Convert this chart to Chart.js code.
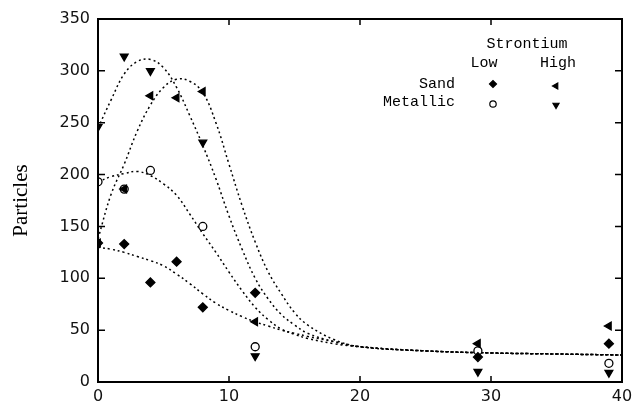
<!DOCTYPE html>
<html lang="en">
<head>
<meta charset="UTF-8">
<title>Particles</title>
<script src="https://cdn.jsdelivr.net/npm/chart.js"></script>
<style>
  html, body { margin: 0; padding: 0; background: #fff; }
</style>
</head>
<body>
<canvas id="chart" width="642" height="417"></canvas>
<script>
// measured points (time on x, particles on y)
const sandX = [0, 2, 4, 6, 8, 12, 29, 39];
const sandLow = [134, 133, 96, 116, 72, 86, 24, 37];
const sandHigh = [134, 186, 276, 274, 280, 58, 37, 54];
const metalX = [0, 2, 4, 8, 12, 29, 39];
const metalLow = [193, 186, 204, 150, 34, 30, 18];
const metalHigh = [246, 314, 300, 231, 25, 10, 9];

// fitted curves
const fitX = [0, 1, 2, 3, 4, 5, 6, 7, 8, 9, 10, 11, 12, 13, 14, 15, 16, 18, 20, 25, 30, 35, 40];
const fitSandLow = [130, 128, 125, 121, 117, 112, 104, 95, 85, 76, 69, 63, 58, 54, 50, 47, 44, 39, 34, 30, 28, 27, 26];
const fitSandHigh = [138, 181, 210, 242, 267, 284, 292, 290, 279, 250, 210, 170, 135, 106, 85, 67, 55, 41, 34, 30, 28, 27, 26];
const fitMetalLow = [193, 198, 201, 203, 199, 191, 180, 162, 143, 125, 106, 88, 72, 60, 51, 46, 42, 37, 34, 30, 28, 27, 26];
const fitMetalHigh = [245, 272, 297, 309, 311, 303, 284, 257, 228, 196, 160, 128, 100, 80, 65, 55, 47, 39, 34, 30, 28, 27, 26];

const xTicks = [0, 10, 20, 30, 40];
const yTicks = [0, 50, 100, 150, 200, 250, 300, 350];

const pts = (xs, ys) => xs.map((x, i) => ({ x: x, y: ys[i] }));

function fitLine(ys) {
    return {
        data: pts(fitX, ys),
        showLine: true,
        borderColor: '#000',
        borderWidth: 1.5,
        borderDash: [2, 3],
        pointRadius: 0,
        tension: 0.4,
        order: 2
    };
}

function marks(xs, ys, style, rot, fill, r) {
    return {
        data: pts(xs, ys),
        showLine: false,
        pointStyle: style,
        rotation: rot,
        pointRadius: r,
        backgroundColor: fill,
        borderColor: '#000',
        borderWidth: 1.3,
        order: 1
    };
}

// the key in the upper right and the inward ticks of the frame
const framePlugin = {
    id: 'frame',
    afterDraw(chart) {
        const ctx = chart.ctx;
        const a = chart.chartArea;
        const xs = chart.scales.x, ys = chart.scales.y;
        ctx.save();
        ctx.strokeStyle = '#000';
        ctx.lineWidth = 2;
        ctx.strokeRect(a.left, a.top, a.right - a.left, a.bottom - a.top);
        ctx.lineWidth = 1.5;
        ctx.beginPath();
        xTicks.slice(1, -1).forEach(v => {
            const px = xs.getPixelForValue(v);
            ctx.moveTo(px, a.bottom); ctx.lineTo(px, a.bottom - 6);
            ctx.moveTo(px, a.top); ctx.lineTo(px, a.top + 6);
        });
        yTicks.slice(1, -1).forEach(v => {
            const py = ys.getPixelForValue(v);
            ctx.moveTo(a.left, py); ctx.lineTo(a.left + 7, py);
            ctx.moveTo(a.right, py); ctx.lineTo(a.right - 7, py);
        });
        ctx.stroke();

        ctx.fillStyle = '#000';
        ctx.font = '15px "Liberation Mono"';
        ctx.textBaseline = 'middle';
        ctx.textAlign = 'center';
        ctx.fillText('Strontium', 527, 44);
        ctx.fillText('Low', 484, 63);
        ctx.fillText('High', 558, 63);
        ctx.textAlign = 'right';
        ctx.fillText('Sand', 455, 84);
        ctx.fillText('Metallic', 455, 102);

        const H = Chart.helpers;
        ctx.lineWidth = 1.2;
        H.drawPoint(ctx, { pointStyle: 'rectRot', radius: 3.5, rotation: 0, borderWidth: 1 }, 493, 84);
        H.drawPoint(ctx, { pointStyle: 'triangle', radius: 3.5, rotation: -90, borderWidth: 1 }, 556, 86);
        H.drawPoint(ctx, { pointStyle: 'triangle', radius: 3.5, rotation: 180, borderWidth: 1 }, 556, 105);
        ctx.fillStyle = '#fff';
        H.drawPoint(ctx, { pointStyle: 'circle', radius: 3.2, rotation: 0, borderWidth: 1 }, 493, 104);
        ctx.restore();
    }
};

const tickFont = { family: 'DejaVu Sans', size: 16 };

new Chart(document.getElementById('chart'), {
    type: 'scatter',
    data: {
        datasets: [
            fitLine(fitSandLow),
            fitLine(fitSandHigh),
            fitLine(fitMetalLow),
            fitLine(fitMetalHigh),
            marks(sandX, sandLow, 'rectRot', 0, '#000', 4.5),
            marks(sandX, sandHigh, 'triangle', -90, '#000', 4.5),
            marks(metalX, metalLow, 'circle', 0, '#fff', 4),
            marks(metalX, metalHigh, 'triangle', 180, '#000', 4.5)
        ]
    },
    options: {
        responsive: false,
        animation: false,
        devicePixelRatio: 1,
        layout: { padding: { top: 19, right: 20, left: 0, bottom: 0 } },
        plugins: { legend: { display: false }, tooltip: { enabled: false } },
        scales: {
            x: {
                type: 'linear',
                min: 0,
                max: 40,
                afterBuildTicks: s => { s.ticks = xTicks.map(v => ({ value: v })); },
                afterFit: s => { s.height = 35; },
                grid: { display: false, drawTicks: false },
                border: { display: false },
                ticks: { font: tickFont, color: '#111', padding: 5 }
            },
            y: {
                type: 'linear',
                min: 0,
                max: 350,
                afterBuildTicks: s => { s.ticks = yTicks.map(v => ({ value: v })); },
                afterFit: s => { s.width = 98; },
                grid: { display: false, drawTicks: false },
                border: { display: false },
                ticks: { font: tickFont, color: '#111', padding: 8 },
                title: {
                    display: true,
                    text: 'Particles',
                    color: '#000',
                    font: { family: 'Liberation Serif', size: 21 },
                    padding: { top: 9, bottom: 0 }
                }
            }
        }
    },
    plugins: [framePlugin]
});
</script>
</body>
</html>
